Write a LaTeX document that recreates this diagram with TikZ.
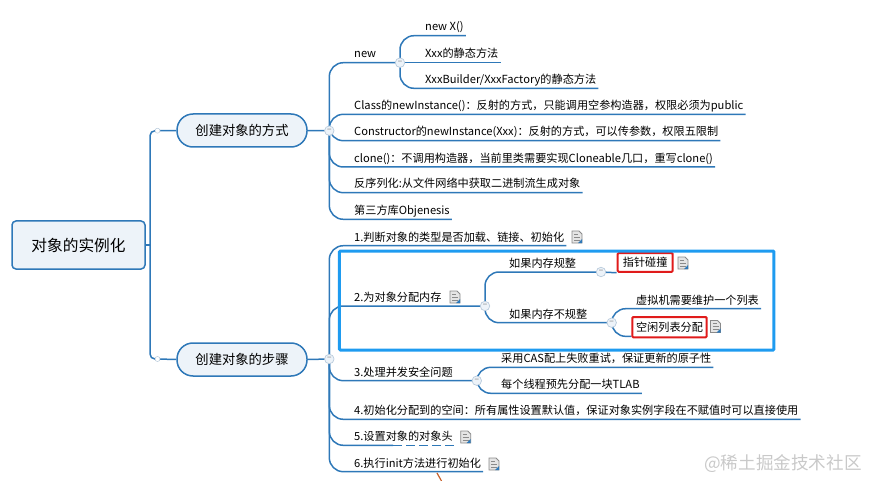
\documentclass[tikz,border=0pt]{standalone}
\usepackage{xcolor}
\usepackage{fontspec}
\setmainfont{Noto Sans CJK SC}
\usetikzlibrary{backgrounds}

\definecolor{linkblue}{HTML}{2E78B8}
\definecolor{paleblue}{HTML}{EDF3F9}
\definecolor{framblue}{HTML}{1E9BF0}
\definecolor{markred}{HTML}{E01B1B}
\definecolor{hubgray}{HTML}{B9CBDC}
\definecolor{notegray}{HTML}{8A8A8A}
\definecolor{waterkgray}{HTML}{C9C9C9}
\definecolor{slipbrown}{HTML}{C8602A}

\tikzset{
	link/.style={draw=linkblue, line width=1.5pt},
	curvelink/.style={link, rounded corners=14pt},
	rootbox/.style={draw=linkblue, line width=1.5pt, fill=paleblue, rounded corners=4pt, minimum width=133pt, minimum height=48pt, font=\fontsize{15.7}{18}\selectfont},
	topicpill/.style={draw=linkblue, line width=1.5pt, fill=paleblue, rounded corners=16pt, minimum width=130pt, minimum height=33pt, font=\fontsize{13.3}{16}\selectfont},
	leaf/.style={anchor=south west, inner xsep=2pt, inner ysep=2pt, text height=9pt, text depth=2.5pt, font=\fontsize{11.15}{13}\selectfont},
	markbox/.style={draw=markred, line width=2pt, rounded corners=1pt, inner sep=0pt, font=\fontsize{11.15}{13}\selectfont},
	hubdot/.style={circle, draw=hubgray, line width=0.7pt, fill=paleblue, inner sep=0pt, minimum size=9.5pt, text=black!55, font=\fontsize{8}{8}\selectfont},
	smalldot/.style={circle, draw=hubgray, line width=0.5pt, fill=white, inner sep=0pt, minimum size=5pt},
	memframe/.style={draw=framblue, line width=3pt, rounded corners=1pt, minimum width=434.5pt, minimum height=99pt},
	noteicon/.pic={
		\draw[notegray, line width=0.9pt, fill=black!10] (-5,-6) -- (2,-6) -- (5,-3) -- (5,6) -- (-5,6) -- cycle;
		\draw[notegray, line width=0.7pt] (-3,-3) -- (1,-3) (-3,0) -- (3,0) (-3,3) -- (3,3);
		\fill[linkblue] (1,6) -- (5,2) -- (5,6) -- cycle;
	}
}

\begin{document}
\begin{tikzpicture}[x=1pt, y=-1pt]
	\useasboundingbox (0,0) rectangle (870,481);

	\node[rootbox] (root) at (78.5,245) {对象的实例化};
	\coordinate (rootjoint) at (150,245);
	\node[smalldot] (dotways) at (157.5,130.7) {};
	\node[smalldot] (dotsteps) at (157.5,359) {};
	\node[topicpill] (ways) at (242,130.5) {创建对象的方式};
	\node[topicpill] (steps) at (242,359.5) {创建对象的步骤};

	% Hubs of each branch
	\node[hubdot] (hubways) at (329.3,130.7) {−};
	\node[hubdot] (hubsteps) at (329.3,359) {−};
	\node[hubdot] (hubnew) at (400,62.7) {−};
	\node[hubdot] (hubmem) at (485,306) {−};
	\node[hubdot] (hubreg) at (601,272) {−};
	\node[hubdot] (hubirr) at (611.7,322.7) {−};
	\node[hubdot] (hubsafe) at (476.8,380.7) {−};

	% Leaves of the first branch
	\node[leaf] (new) at (352,62.7) {new};
	\node[leaf] (newx) at (423,35.7) {new X()};
	\node[leaf] (xxx) at (423,62.7) {Xxx的静态方法};
	\node[leaf] (builder) at (423,88.3) {XxxBuilder/XxxFactory的静态方法};
	\node[leaf] (clazz) at (352,114.3) {Class的newInstance()：反射的方式，只能调用空参构造器，权限必须为public};
	\node[leaf] (ctor) at (352,140.7) {Constructor的newInstance(Xxx)：反射的方式，可以传参数，权限五限制};
	\node[leaf] (clone) at (352,167) {clone()：不调用构造器，当前里类需要实现Cloneable几口，重写clone()};
	\node[leaf] (deser) at (352,192.7) {反序列化:从文件网络中获取二进制流生成对象};
	\node[leaf] (objenesis) at (352,219.3) {第三方库Objenesis};

	% Leaves of the second branch
	\node[leaf] (s1) at (352,245.7) {1.判断对象的类型是否加载、链接、初始化};
	\node[leaf] (s2) at (352,306) {2.为对象分配内存};
	\node[leaf] (regular) at (507,272) {如果内存规整};
	\node[markbox, minimum width=55pt, minimum height=18.7pt] (bump) at (645.2,262.4) {指针碰撞};
	\node[leaf] (irregular) at (507,322.7) {如果内存不规整};
	\node[leaf] (vmlist) at (634,308.7) {虚拟机需要维护一个列表};
	\node[markbox, minimum width=74.4pt, minimum height=20.3pt] (freelist) at (669.5,327.2) {空闲列表分配};
	\node[leaf] (s3) at (352,380.7) {3.处理并发安全问题};
	\node[leaf] (cas) at (499,367.3) {采用CAS配上失败重试，保证更新的原子性};
	\node[leaf] (tlab) at (499,393.3) {每个线程预先分配一块TLAB};
	\node[leaf] (s4) at (352,419.3) {4.初始化分配到的空间：所有属性设置默认值，保证对象实例字段在不赋值时可以直接使用};
	\node[leaf] (s5) at (352,445.3) {5.设置对象的对象头};
	\node[leaf] (s6) at (352,471.7) {6.执行init方法进行初始化};
	\coordinate (s5dash) at (393,445.3);

	\node[memframe] (frame) at (556.7,300.5) {};

	\begin{pgfonlayer}{background}
		% Draw the edges from the root
		\draw[link] (root.east) -- (rootjoint);
		\draw[link, rounded corners=5pt] (rootjoint) |- (dotways.center);
		\draw[link, rounded corners=5pt] (rootjoint) |- (dotsteps.center);
		\draw[link] (dotways.center) -- (ways.west);
		\draw[link] (dotsteps.center) -- (steps.west);
		\draw[link] (ways.east) -- (hubways.center);
		\draw[link] (steps.east) -- (hubsteps.center);

		% Draw the edges of the first branch
		\draw[curvelink] (hubways.center) |- (hubnew.center);
		\draw[curvelink] (hubnew.center) |- (newx.south east);
		\draw[link] (hubnew.center) -- (xxx.south east);
		\draw[curvelink] (hubnew.center) |- (builder.south east);
		\draw[curvelink] (hubways.center) |- (clazz.south east);
		\draw[curvelink] (hubways.center) |- (ctor.south east);
		\draw[curvelink] (hubways.center) |- (clone.south east);
		\draw[curvelink] (hubways.center) |- (deser.south east);
		\draw[curvelink] (hubways.center) |- (objenesis.south east);

		% Draw the edges of the second branch
		\draw[curvelink] (hubsteps.center) |- (s1.south east);
		\draw[curvelink] (hubsteps.center) |- (hubmem.center);
		\draw[curvelink] (hubmem.center) |- (hubreg.center);
		\draw[link] (hubreg.center) -- (bump.south west);
		\draw[curvelink] (hubmem.center) |- (hubirr.center);
		\draw[curvelink] (hubirr.center) |- (vmlist.south east);
		\draw[curvelink] (hubirr.center) |- ([yshift=2pt]freelist.south west);
		\draw[curvelink] (hubsteps.center) |- (hubsafe.center);
		\draw[curvelink] (hubsafe.center) |- (cas.south east);
		\draw[curvelink] (hubsafe.center) |- (tlab.south east);
		\draw[curvelink] (hubsteps.center) |- (s4.south east);
		\draw[curvelink] (hubsteps.center) |- (s5dash);
		\draw[link, dash pattern=on 9pt off 4pt] (s5dash) -- (s5.south east);
		\draw[curvelink] (hubsteps.center) |- (s6.south east);
	\end{pgfonlayer}

	% Note marks behind the texts
	\pic at (577,237) {noteicon};
	\pic at (455,297) {noteicon};
	\pic at (683,263) {noteicon};
	\pic at (715.5,326.5) {noteicon};
	\pic at (465.7,437) {noteicon};
	\pic at (494,464) {noteicon};

	\draw[slipbrown, line width=1.2pt] (437,473) -- (441.5,481);
	\node[text=waterkgray, font=\fontsize{17.6}{20}\selectfont] (mark) at (783,463.5) {@稀土掘金技术社区};
\end{tikzpicture}
\end{document}
